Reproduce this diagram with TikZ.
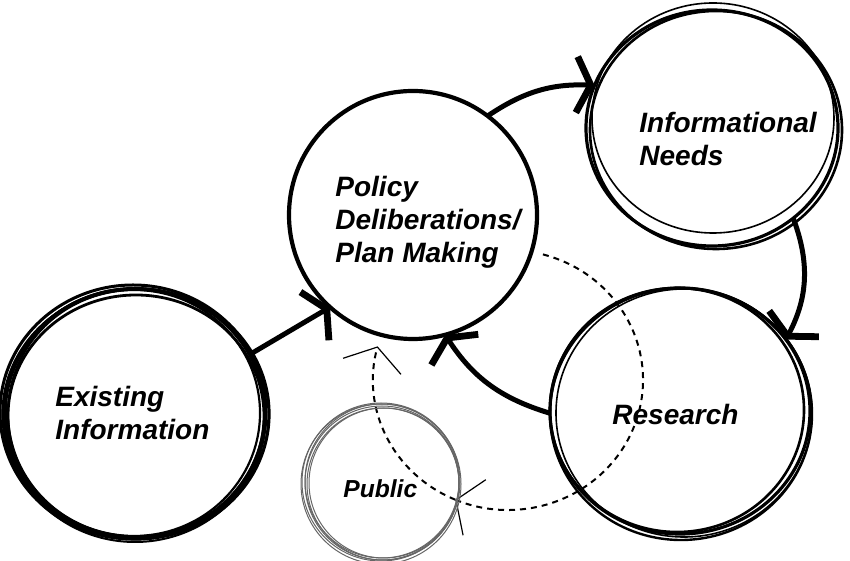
\documentclass[tikz,border=0pt]{standalone}
\usepackage{fontspec}
\setmainfont{Liberation Sans}
\usetikzlibrary{arrows.meta, shapes.geometric, backgrounds}
\tikzset{
  bubble/.style={ellipse, draw, line width=1.6pt, inner sep=0pt, outer sep=0pt},
  caption/.style={anchor=west, align=left, inner sep=0pt, font=\fontsize{14}{16.5}\selectfont\bfseries\itshape},
  flow/.style={line width=2.5pt, -{Straight Barb[length=7pt, width=28pt, line width=3.4pt]}},
  feedback/.style={line width=1pt, dash pattern=on 3pt off 2.5pt, -{Straight Barb[length=10pt, width=30pt, line width=0.6pt]}}
}
\begin{document}
\begin{tikzpicture}[x=0.5pt, y=0.5pt]
    \useasboundingbox (0,0) rectangle (850,561);
    \node[bubble, minimum width=130pt, minimum height=124pt, line width=1.8pt] (exist) at (135,148) {};
    \foreach \dx/\dy/\rx/\ry/\lw in {-2/1/66.5/63.5/1.5, 1/-3/64/60.5/1.4, 1/-1/66.5/62.5/1.6, -1/0/63/61.5/1.1, 0/-2/65.5/63.5/1}
        \draw[line width=\lw pt] ([shift={(\dx,\dy)}]exist.center) ellipse [x radius=\rx pt, y radius=\ry pt];
    \node[bubble, circle, minimum size=124pt, line width=2.1pt, fill=white] (policy) at (413,346) {};
    \node[bubble, minimum width=126pt, minimum height=118pt] (needs) at (712,433) {};
    \foreach \dx/\dy/\rx/\ry/\lw in {1/10/60.5/57.5/0.8, 4/-2/63/59.5/1.3}
        \draw[line width=\lw pt] ([shift={(\dx,\dy)}]needs.center) ellipse [x radius=\rx pt, y radius=\ry pt];
    \node[bubble, minimum width=130pt, minimum height=123pt] (research) at (680,150) {};
    \foreach \dx/\dy/\rx/\ry/\lw in {1/-3/65.5/63/1.2, 4/-2/64/62/0.8, -3/1/63.5/61/1.3}
        \draw[line width=\lw pt] ([shift={(\dx,\dy)}]research.center) ellipse [x radius=\rx pt, y radius=\ry pt];
    \node[bubble, circle, minimum size=77pt, draw=black!60, line width=0.5pt] (public) at (382,78) {};
    \foreach \dx/\dy/\r in {1/-1/38, -1/1/39.5, 2/0/37.5, 0/2/38.5, -1/-1/40}
        \draw[black!60, line width=0.5pt] ([shift={(\dx,\dy)}]public.center) circle [radius=\r pt];

    \node[caption] (existtext) at (55,148) {Existing\\Information};
    \node[caption] (policytext) at (335,339) {Policy\\Deliberations/\\Plan Making};
    \node[caption] (needstext) at (639,422) {Informational\\Needs};
    \node[caption] (researchtext) at (612,147) {Research};
    \node[caption, font=\fontsize{12.3}{14}\selectfont\bfseries\itshape] (publictext) at (343,72) {Public};

    \draw[flow] (exist.27) -- (policy.228);
    \draw[flow] (policy.53) to[bend left=18] (needs.160);
    \draw[flow] (needs.-48) to[bend left=24] (research.34);
    \draw[flow] (research.181) to[bend left=20] (policy.285);

    \coordinate (loop) at (508,181);
    \begin{scope}[on background layer]
        \draw[feedback] ([shift={(75:135 and 130)}]loop) arc[start angle=75, end angle=-113, x radius=67.5pt, y radius=65pt];
        \draw[feedback] ([shift={(-113:135 and 130)}]loop) arc[start angle=247, end angle=165, x radius=67.5pt, y radius=65pt];
    \end{scope}
\end{tikzpicture}
\end{document}
